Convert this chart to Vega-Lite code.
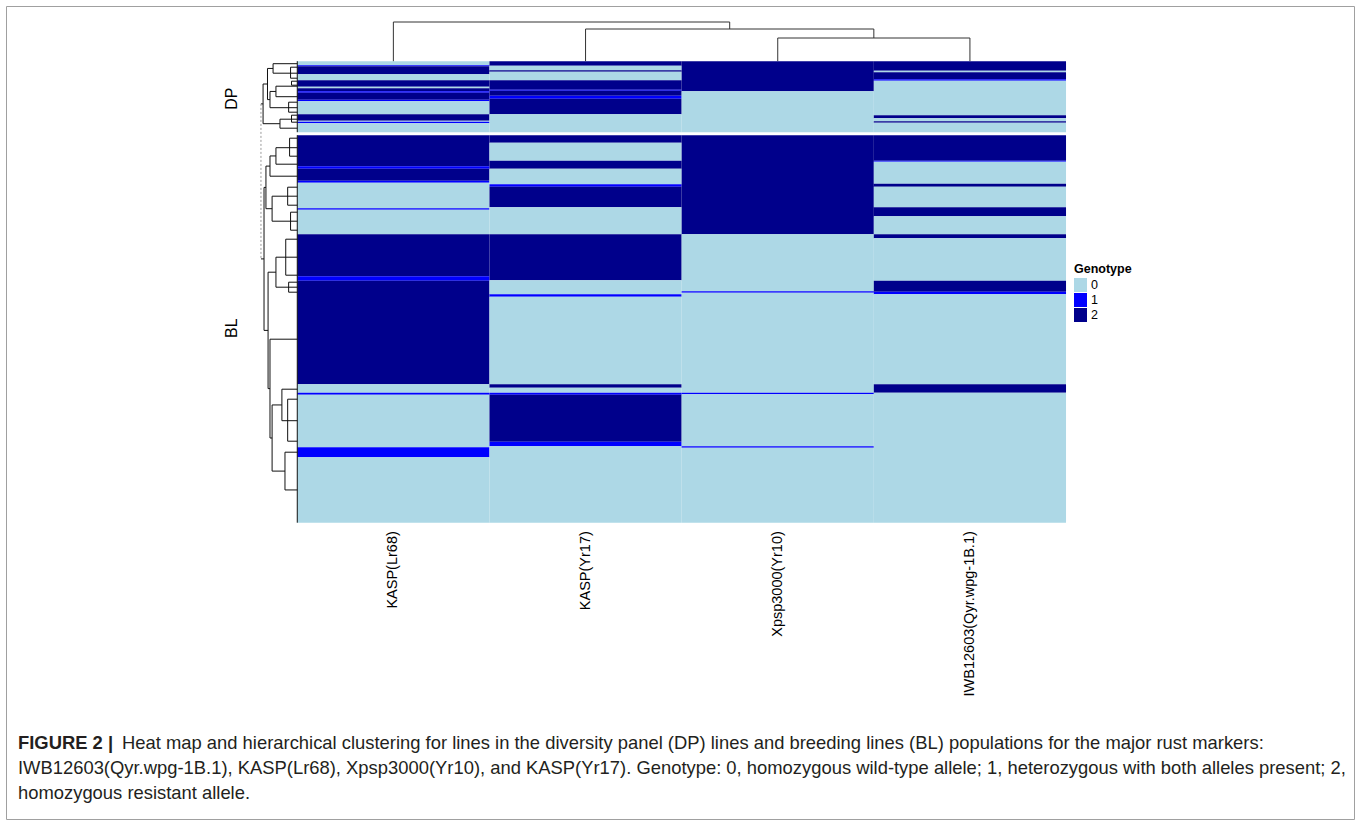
{
  "$schema": "https://vega.github.io/schema/vega-lite/v6.json",
  "width": 1360,
  "height": 825,
  "autosize": {"type": "fit", "contains": "padding"},
  "padding": 6,
  "background": "white",
  "config": {
    "view": {"stroke": "#a0a0a0", "strokeWidth": 1},
    "legend": {
      "orient": "none",
      "legendX": 1068,
      "legendY": 257,
      "titleFont": "Liberation Sans",
      "titleFontSize": 12.5,
      "titleFontWeight": "bold",
      "titleColor": "#000000",
      "titlePadding": 3,
      "labelFont": "Liberation Sans",
      "labelFontSize": 12.5,
      "labelColor": "#000000",
      "labelOffset": 4,
      "symbolType": "M-1,-1.08H1V1.08H-1Z",
      "symbolSize": 169,
      "symbolStrokeWidth": 0,
      "symbolOpacity": 1,
      "rowPadding": 0
    }
  },
  "datasets": {
    "cells": [
      {"marker": "KASP(Lr68)", "col": 0, "r1": 0, "r2": 4, "genotype": "0"},
      {"marker": "KASP(Lr68)", "col": 0, "r1": 4, "r2": 5, "genotype": "1"},
      {"marker": "KASP(Lr68)", "col": 0, "r1": 5, "r2": 13, "genotype": "2"},
      {"marker": "KASP(Lr68)", "col": 0, "r1": 13, "r2": 19, "genotype": "0"},
      {"marker": "KASP(Lr68)", "col": 0, "r1": 19, "r2": 25.5, "genotype": "2"},
      {"marker": "KASP(Lr68)", "col": 0, "r1": 25.5, "r2": 27, "genotype": "0"},
      {"marker": "KASP(Lr68)", "col": 0, "r1": 27, "r2": 30, "genotype": "2"},
      {"marker": "KASP(Lr68)", "col": 0, "r1": 30, "r2": 31.5, "genotype": "1"},
      {"marker": "KASP(Lr68)", "col": 0, "r1": 31.5, "r2": 38.5, "genotype": "2"},
      {"marker": "KASP(Lr68)", "col": 0, "r1": 38.5, "r2": 40, "genotype": "1"},
      {"marker": "KASP(Lr68)", "col": 0, "r1": 40, "r2": 53, "genotype": "0"},
      {"marker": "KASP(Lr68)", "col": 0, "r1": 53, "r2": 59.5, "genotype": "2"},
      {"marker": "KASP(Lr68)", "col": 0, "r1": 59.5, "r2": 60.5, "genotype": "0"},
      {"marker": "KASP(Lr68)", "col": 0, "r1": 60.5, "r2": 62, "genotype": "1"},
      {"marker": "KASP(Lr68)", "col": 0, "r1": 62, "r2": 71, "genotype": "0"},
      {"marker": "KASP(Lr68)", "col": 0, "r1": 74, "r2": 105, "genotype": "2"},
      {"marker": "KASP(Lr68)", "col": 0, "r1": 105, "r2": 107.5, "genotype": "1"},
      {"marker": "KASP(Lr68)", "col": 0, "r1": 107.5, "r2": 119.5, "genotype": "2"},
      {"marker": "KASP(Lr68)", "col": 0, "r1": 119.5, "r2": 121.5, "genotype": "1"},
      {"marker": "KASP(Lr68)", "col": 0, "r1": 121.5, "r2": 147, "genotype": "0"},
      {"marker": "KASP(Lr68)", "col": 0, "r1": 147, "r2": 148.5, "genotype": "1"},
      {"marker": "KASP(Lr68)", "col": 0, "r1": 148.5, "r2": 173, "genotype": "0"},
      {"marker": "KASP(Lr68)", "col": 0, "r1": 173, "r2": 215, "genotype": "2"},
      {"marker": "KASP(Lr68)", "col": 0, "r1": 215, "r2": 219.5, "genotype": "1"},
      {"marker": "KASP(Lr68)", "col": 0, "r1": 219.5, "r2": 323, "genotype": "2"},
      {"marker": "KASP(Lr68)", "col": 0, "r1": 323, "r2": 331.5, "genotype": "0"},
      {"marker": "KASP(Lr68)", "col": 0, "r1": 331.5, "r2": 333.5, "genotype": "1"},
      {"marker": "KASP(Lr68)", "col": 0, "r1": 333.5, "r2": 386, "genotype": "0"},
      {"marker": "KASP(Lr68)", "col": 0, "r1": 386, "r2": 396, "genotype": "1"},
      {"marker": "KASP(Lr68)", "col": 0, "r1": 396, "r2": 461.5, "genotype": "0"},

      {"marker": "KASP(Yr17)", "col": 1, "r1": 0, "r2": 4.5, "genotype": "2"},
      {"marker": "KASP(Yr17)", "col": 1, "r1": 4.5, "r2": 9, "genotype": "0"},
      {"marker": "KASP(Yr17)", "col": 1, "r1": 9, "r2": 10.5, "genotype": "2"},
      {"marker": "KASP(Yr17)", "col": 1, "r1": 10.5, "r2": 19, "genotype": "0"},
      {"marker": "KASP(Yr17)", "col": 1, "r1": 19, "r2": 28.5, "genotype": "2"},
      {"marker": "KASP(Yr17)", "col": 1, "r1": 28.5, "r2": 29.5, "genotype": "1"},
      {"marker": "KASP(Yr17)", "col": 1, "r1": 29.5, "r2": 34.5, "genotype": "2"},
      {"marker": "KASP(Yr17)", "col": 1, "r1": 34.5, "r2": 37.5, "genotype": "1"},
      {"marker": "KASP(Yr17)", "col": 1, "r1": 37.5, "r2": 53, "genotype": "2"},
      {"marker": "KASP(Yr17)", "col": 1, "r1": 53, "r2": 71, "genotype": "0"},
      {"marker": "KASP(Yr17)", "col": 1, "r1": 74, "r2": 81.5, "genotype": "2"},
      {"marker": "KASP(Yr17)", "col": 1, "r1": 81.5, "r2": 99.5, "genotype": "0"},
      {"marker": "KASP(Yr17)", "col": 1, "r1": 99.5, "r2": 107.5, "genotype": "2"},
      {"marker": "KASP(Yr17)", "col": 1, "r1": 107.5, "r2": 123, "genotype": "0"},
      {"marker": "KASP(Yr17)", "col": 1, "r1": 123, "r2": 125.5, "genotype": "1"},
      {"marker": "KASP(Yr17)", "col": 1, "r1": 125.5, "r2": 146, "genotype": "2"},
      {"marker": "KASP(Yr17)", "col": 1, "r1": 146, "r2": 173, "genotype": "0"},
      {"marker": "KASP(Yr17)", "col": 1, "r1": 173, "r2": 219, "genotype": "2"},
      {"marker": "KASP(Yr17)", "col": 1, "r1": 219, "r2": 233, "genotype": "0"},
      {"marker": "KASP(Yr17)", "col": 1, "r1": 233, "r2": 235.5, "genotype": "1"},
      {"marker": "KASP(Yr17)", "col": 1, "r1": 235.5, "r2": 323, "genotype": "0"},
      {"marker": "KASP(Yr17)", "col": 1, "r1": 323, "r2": 326.5, "genotype": "2"},
      {"marker": "KASP(Yr17)", "col": 1, "r1": 326.5, "r2": 331.5, "genotype": "0"},
      {"marker": "KASP(Yr17)", "col": 1, "r1": 331.5, "r2": 333.5, "genotype": "1"},
      {"marker": "KASP(Yr17)", "col": 1, "r1": 333.5, "r2": 380.5, "genotype": "2"},
      {"marker": "KASP(Yr17)", "col": 1, "r1": 380.5, "r2": 385, "genotype": "1"},
      {"marker": "KASP(Yr17)", "col": 1, "r1": 385, "r2": 461.5, "genotype": "0"},

      {"marker": "Xpsp3000(Yr10)", "col": 2, "r1": 0, "r2": 30, "genotype": "2"},
      {"marker": "Xpsp3000(Yr10)", "col": 2, "r1": 30, "r2": 71, "genotype": "0"},
      {"marker": "Xpsp3000(Yr10)", "col": 2, "r1": 74, "r2": 173, "genotype": "2"},
      {"marker": "Xpsp3000(Yr10)", "col": 2, "r1": 173, "r2": 230, "genotype": "0"},
      {"marker": "Xpsp3000(Yr10)", "col": 2, "r1": 230, "r2": 231.5, "genotype": "1"},
      {"marker": "Xpsp3000(Yr10)", "col": 2, "r1": 231.5, "r2": 331.5, "genotype": "0"},
      {"marker": "Xpsp3000(Yr10)", "col": 2, "r1": 331.5, "r2": 333, "genotype": "1"},
      {"marker": "Xpsp3000(Yr10)", "col": 2, "r1": 333, "r2": 385, "genotype": "0"},
      {"marker": "Xpsp3000(Yr10)", "col": 2, "r1": 385, "r2": 386.5, "genotype": "1"},
      {"marker": "Xpsp3000(Yr10)", "col": 2, "r1": 386.5, "r2": 461.5, "genotype": "0"},

      {"marker": "IWB12603(Qyr.wpg-1B.1)", "col": 3, "r1": 0, "r2": 9.5, "genotype": "2"},
      {"marker": "IWB12603(Qyr.wpg-1B.1)", "col": 3, "r1": 9.5, "r2": 11, "genotype": "0"},
      {"marker": "IWB12603(Qyr.wpg-1B.1)", "col": 3, "r1": 11, "r2": 18, "genotype": "2"},
      {"marker": "IWB12603(Qyr.wpg-1B.1)", "col": 3, "r1": 18, "r2": 19.5, "genotype": "1"},
      {"marker": "IWB12603(Qyr.wpg-1B.1)", "col": 3, "r1": 19.5, "r2": 54, "genotype": "0"},
      {"marker": "IWB12603(Qyr.wpg-1B.1)", "col": 3, "r1": 54, "r2": 57, "genotype": "2"},
      {"marker": "IWB12603(Qyr.wpg-1B.1)", "col": 3, "r1": 57, "r2": 60, "genotype": "0"},
      {"marker": "IWB12603(Qyr.wpg-1B.1)", "col": 3, "r1": 60, "r2": 61.5, "genotype": "2"},
      {"marker": "IWB12603(Qyr.wpg-1B.1)", "col": 3, "r1": 61.5, "r2": 71, "genotype": "0"},
      {"marker": "IWB12603(Qyr.wpg-1B.1)", "col": 3, "r1": 74, "r2": 99.5, "genotype": "2"},
      {"marker": "IWB12603(Qyr.wpg-1B.1)", "col": 3, "r1": 99.5, "r2": 100.5, "genotype": "1"},
      {"marker": "IWB12603(Qyr.wpg-1B.1)", "col": 3, "r1": 100.5, "r2": 122.5, "genotype": "0"},
      {"marker": "IWB12603(Qyr.wpg-1B.1)", "col": 3, "r1": 122.5, "r2": 125.5, "genotype": "2"},
      {"marker": "IWB12603(Qyr.wpg-1B.1)", "col": 3, "r1": 125.5, "r2": 146, "genotype": "0"},
      {"marker": "IWB12603(Qyr.wpg-1B.1)", "col": 3, "r1": 146, "r2": 155, "genotype": "2"},
      {"marker": "IWB12603(Qyr.wpg-1B.1)", "col": 3, "r1": 155, "r2": 173, "genotype": "0"},
      {"marker": "IWB12603(Qyr.wpg-1B.1)", "col": 3, "r1": 173, "r2": 177, "genotype": "2"},
      {"marker": "IWB12603(Qyr.wpg-1B.1)", "col": 3, "r1": 177, "r2": 219.5, "genotype": "0"},
      {"marker": "IWB12603(Qyr.wpg-1B.1)", "col": 3, "r1": 219.5, "r2": 230.5, "genotype": "2"},
      {"marker": "IWB12603(Qyr.wpg-1B.1)", "col": 3, "r1": 230.5, "r2": 233, "genotype": "1"},
      {"marker": "IWB12603(Qyr.wpg-1B.1)", "col": 3, "r1": 233, "r2": 323, "genotype": "0"},
      {"marker": "IWB12603(Qyr.wpg-1B.1)", "col": 3, "r1": 323, "r2": 331.5, "genotype": "2"},
      {"marker": "IWB12603(Qyr.wpg-1B.1)", "col": 3, "r1": 331.5, "r2": 461.5, "genotype": "0"}
    ],
    "rowTree": [
      {"x1": 0, "x2": 0, "y1": 0, "y2": 71},
      {"x1": 0, "x2": 0, "y1": 74, "y2": 461.5},
      {"x1": -0.126, "x2": -0.126, "y1": 2.5, "y2": 12},
      {"x1": -0.126, "x2": 0, "y1": 2.5, "y2": 2.5},
      {"x1": -0.126, "x2": 0, "y1": 12, "y2": 12},
      {"x1": -0.111, "x2": -0.111, "y1": 25, "y2": 35.5},
      {"x1": -0.111, "x2": 0, "y1": 25, "y2": 25},
      {"x1": -0.111, "x2": 0, "y1": 35.5, "y2": 35.5},
      {"x1": -0.142, "x2": -0.142, "y1": 30.25, "y2": 46.5},
      {"x1": -0.142, "x2": -0.111, "y1": 30.25, "y2": 30.25},
      {"x1": -0.142, "x2": 0, "y1": 46.5, "y2": 46.5},
      {"x1": -0.155, "x2": -0.155, "y1": 7.25, "y2": 38.4},
      {"x1": -0.155, "x2": -0.126, "y1": 7.25, "y2": 7.25},
      {"x1": -0.155, "x2": -0.142, "y1": 38.4, "y2": 38.4},
      {"x1": -0.09, "x2": -0.09, "y1": 58, "y2": 67},
      {"x1": -0.09, "x2": 0, "y1": 58, "y2": 58},
      {"x1": -0.09, "x2": 0, "y1": 67, "y2": 67},
      {"x1": -0.178, "x2": -0.178, "y1": 22.8, "y2": 62.5},
      {"x1": -0.178, "x2": -0.155, "y1": 22.8, "y2": 22.8},
      {"x1": -0.178, "x2": -0.09, "y1": 62.5, "y2": 62.5},
      {"x1": -0.111, "x2": -0.111, "y1": 86.5, "y2": 103},
      {"x1": -0.111, "x2": 0, "y1": 86.5, "y2": 86.5},
      {"x1": -0.111, "x2": 0, "y1": 103, "y2": 103},
      {"x1": -0.142, "x2": -0.142, "y1": 94.75, "y2": 115},
      {"x1": -0.142, "x2": -0.111, "y1": 94.75, "y2": 94.75},
      {"x1": -0.142, "x2": 0, "y1": 115, "y2": 115},
      {"x1": -0.131, "x2": -0.131, "y1": 135, "y2": 160},
      {"x1": -0.131, "x2": 0, "y1": 135, "y2": 135},
      {"x1": -0.131, "x2": 0, "y1": 160, "y2": 160},
      {"x1": -0.163, "x2": -0.163, "y1": 104.9, "y2": 147.5},
      {"x1": -0.163, "x2": -0.142, "y1": 104.9, "y2": 104.9},
      {"x1": -0.163, "x2": -0.131, "y1": 147.5, "y2": 147.5},
      {"x1": -0.111, "x2": -0.111, "y1": 196, "y2": 226},
      {"x1": -0.111, "x2": 0, "y1": 196, "y2": 196},
      {"x1": -0.111, "x2": 0, "y1": 226, "y2": 226},
      {"x1": -0.08, "x2": -0.08, "y1": 328, "y2": 359.5},
      {"x1": -0.08, "x2": 0, "y1": 328, "y2": 328},
      {"x1": -0.08, "x2": 0, "y1": 359.5, "y2": 359.5},
      {"x1": -0.064, "x2": -0.064, "y1": 391, "y2": 428.75},
      {"x1": -0.064, "x2": 0, "y1": 391, "y2": 391},
      {"x1": -0.064, "x2": 0, "y1": 428.75, "y2": 428.75},
      {"x1": -0.131, "x2": -0.131, "y1": 343.75, "y2": 409.9},
      {"x1": -0.131, "x2": -0.08, "y1": 343.75, "y2": 343.75},
      {"x1": -0.131, "x2": -0.064, "y1": 409.9, "y2": 409.9},
      {"x1": -0.142, "x2": -0.142, "y1": 278, "y2": 376.8},
      {"x1": -0.142, "x2": 0, "y1": 278, "y2": 278},
      {"x1": -0.142, "x2": -0.131, "y1": 376.8, "y2": 376.8},
      {"x1": -0.152, "x2": -0.152, "y1": 211, "y2": 327.4},
      {"x1": -0.152, "x2": -0.111, "y1": 211, "y2": 211},
      {"x1": -0.152, "x2": -0.142, "y1": 327.4, "y2": 327.4},
      {"x1": -0.173, "x2": -0.173, "y1": 126.2, "y2": 269.2},
      {"x1": -0.173, "x2": -0.163, "y1": 126.2, "y2": 126.2},
      {"x1": -0.173, "x2": -0.152, "y1": 269.2, "y2": 269.2},
      {"x1": -0.189, "x2": -0.178, "y1": 42.7, "y2": 42.7},
      {"x1": -0.189, "x2": -0.173, "y1": 197.7, "y2": 197.7},
      {"x1": -0.035, "x2": -0.035, "y1": 6, "y2": 17},
      {"x1": -0.035, "x2": 0, "y1": 6, "y2": 6},
      {"x1": -0.035, "x2": 0, "y1": 17, "y2": 17},
      {"x1": -0.03, "x2": -0.03, "y1": 20, "y2": 24},
      {"x1": -0.03, "x2": 0, "y1": 20, "y2": 20},
      {"x1": -0.03, "x2": 0, "y1": 24, "y2": 24},
      {"x1": -0.045, "x2": -0.045, "y1": 41, "y2": 51},
      {"x1": -0.045, "x2": 0, "y1": 41, "y2": 41},
      {"x1": -0.045, "x2": 0, "y1": 51, "y2": 51},
      {"x1": -0.03, "x2": -0.03, "y1": 54, "y2": 61},
      {"x1": -0.03, "x2": 0, "y1": 54, "y2": 54},
      {"x1": -0.03, "x2": 0, "y1": 61, "y2": 61},
      {"x1": -0.04, "x2": -0.04, "y1": 77, "y2": 95},
      {"x1": -0.04, "x2": 0, "y1": 77, "y2": 77},
      {"x1": -0.04, "x2": 0, "y1": 95, "y2": 95},
      {"x1": -0.05, "x2": -0.05, "y1": 126, "y2": 144},
      {"x1": -0.05, "x2": 0, "y1": 126, "y2": 126},
      {"x1": -0.05, "x2": 0, "y1": 144, "y2": 144},
      {"x1": -0.035, "x2": -0.035, "y1": 151, "y2": 169},
      {"x1": -0.035, "x2": 0, "y1": 151, "y2": 151},
      {"x1": -0.035, "x2": 0, "y1": 169, "y2": 169},
      {"x1": -0.06, "x2": -0.06, "y1": 178, "y2": 214},
      {"x1": -0.06, "x2": 0, "y1": 178, "y2": 178},
      {"x1": -0.06, "x2": 0, "y1": 214, "y2": 214},
      {"x1": -0.045, "x2": -0.045, "y1": 221, "y2": 231},
      {"x1": -0.045, "x2": 0, "y1": 221, "y2": 221},
      {"x1": -0.045, "x2": 0, "y1": 231, "y2": 231},
      {"x1": -0.05, "x2": -0.05, "y1": 338, "y2": 380},
      {"x1": -0.05, "x2": 0, "y1": 338, "y2": 338},
      {"x1": -0.05, "x2": 0, "y1": 380, "y2": 380}
    ],
    "rowRoot": [
      {"x1": -0.189, "x2": -0.189, "y1": 42.7, "y2": 197.7}
    ],
    "colTree": [
      {"x1": 2.5, "x2": 3.5, "y1": -23.2, "y2": -23.2},
      {"x1": 2.5, "x2": 2.5, "y1": 0, "y2": -23.2},
      {"x1": 3.5, "x2": 3.5, "y1": 0, "y2": -23.2},
      {"x1": 1.5, "x2": 3.0, "y1": -32.2, "y2": -32.2},
      {"x1": 1.5, "x2": 1.5, "y1": 0, "y2": -32.2},
      {"x1": 3.0, "x2": 3.0, "y1": -23.2, "y2": -32.2},
      {"x1": 0.5, "x2": 2.25, "y1": -39.2, "y2": -39.2},
      {"x1": 0.5, "x2": 0.5, "y1": 0, "y2": -39.2},
      {"x1": 2.25, "x2": 2.25, "y1": -32.2, "y2": -39.2}
    ],
    "groups": [
      {"label": "DP", "x": -0.34, "y": 37.5},
      {"label": "BL", "x": -0.34, "y": 267}
    ],
    "markers": [
      {"label": "KASP(Lr68)", "x": 0.5, "y": 470},
      {"label": "KASP(Yr17)", "x": 1.5, "y": 470},
      {"label": "Xpsp3000(Yr10)", "x": 2.5, "y": 470},
      {"label": "IWB12603(Qyr.wpg-1B.1)", "x": 3.5, "y": 470}
    ],
    "captionBold": [
      {"text": "FIGURE 2 |", "x": -1.4532, "y": 681.5}
    ],
    "caption": [
      {"text": "Heat map and hierarchical clustering for lines in the diversity panel (DP) lines and breeding lines (BL) populations for the major rust markers:", "x": -0.9121, "y": 681.5},
      {"text": "IWB12603(Qyr.wpg-1B.1), KASP(Lr68), Xpsp3000(Yr10), and KASP(Yr17). Genotype: 0, homozygous wild-type allele; 1, heterozygous with both alleles present; 2,", "x": -1.4532, "y": 706.5},
      {"text": "homozygous resistant allele.", "x": -1.4532, "y": 731.5}
    ]
  },
  "layer": [
    {
      "data": {"name": "cells"},
      "mark": {"type": "rect", "strokeWidth": 0},
      "transform": [{"calculate": "datum.col + 1", "as": "col2"}],
      "encoding": {
        "x": {"field": "col", "type": "quantitative", "axis": null, "scale": {"domain": [-1.5156, 5.4984], "nice": false, "zero": false}},
        "x2": {"field": "col2"},
        "y": {"field": "r1", "type": "quantitative", "axis": null, "scale": {"domain": [-55.2, 757.8], "nice": false, "zero": false, "reverse": true}},
        "y2": {"field": "r2"},
        "color": {
          "field": "genotype",
          "type": "nominal",
          "title": "Genotype",
          "scale": {"domain": ["0", "1", "2"], "range": ["#ADD8E6", "#0000FF", "#00008B"]}
        }
      }
    },
    {
      "data": {"name": "rowTree"},
      "mark": {"type": "rule", "color": "#111111", "strokeWidth": 1},
      "encoding": {
        "x": {"field": "x1", "type": "quantitative", "axis": null, "scale": {"domain": [-1.5156, 5.4984], "nice": false, "zero": false}},
        "x2": {"field": "x2"},
        "y": {"field": "y1", "type": "quantitative", "axis": null, "scale": {"domain": [-55.2, 757.8], "nice": false, "zero": false, "reverse": true}},
        "y2": {"field": "y2"}
      }
    },
    {
      "data": {"name": "rowRoot"},
      "mark": {"type": "rule", "color": "#9a9a9a", "strokeWidth": 1, "strokeDash": [2, 2]},
      "encoding": {
        "x": {"field": "x1", "type": "quantitative", "axis": null, "scale": {"domain": [-1.5156, 5.4984], "nice": false, "zero": false}},
        "x2": {"field": "x2"},
        "y": {"field": "y1", "type": "quantitative", "axis": null, "scale": {"domain": [-55.2, 757.8], "nice": false, "zero": false, "reverse": true}},
        "y2": {"field": "y2"}
      }
    },
    {
      "data": {"name": "colTree"},
      "mark": {"type": "rule", "color": "#333333", "strokeWidth": 1},
      "encoding": {
        "x": {"field": "x1", "type": "quantitative", "axis": null, "scale": {"domain": [-1.5156, 5.4984], "nice": false, "zero": false}},
        "x2": {"field": "x2"},
        "y": {"field": "y1", "type": "quantitative", "axis": null, "scale": {"domain": [-55.2, 757.8], "nice": false, "zero": false, "reverse": true}},
        "y2": {"field": "y2"}
      }
    },
    {
      "data": {"name": "groups"},
      "mark": {"type": "text", "angle": 270, "align": "center", "baseline": "middle", "font": "Liberation Sans", "fontSize": 16, "color": "#000000"},
      "encoding": {
        "x": {"field": "x", "type": "quantitative", "axis": null, "scale": {"domain": [-1.5156, 5.4984], "nice": false, "zero": false}},
        "y": {"field": "y", "type": "quantitative", "axis": null, "scale": {"domain": [-55.2, 757.8], "nice": false, "zero": false, "reverse": true}},
        "text": {"field": "label"}
      }
    },
    {
      "data": {"name": "markers"},
      "mark": {"type": "text", "angle": 270, "align": "right", "baseline": "middle", "font": "Liberation Sans", "fontSize": 14.5, "color": "#000000"},
      "encoding": {
        "x": {"field": "x", "type": "quantitative", "axis": null, "scale": {"domain": [-1.5156, 5.4984], "nice": false, "zero": false}},
        "y": {"field": "y", "type": "quantitative", "axis": null, "scale": {"domain": [-55.2, 757.8], "nice": false, "zero": false, "reverse": true}},
        "text": {"field": "label"}
      }
    },
    {
      "data": {"name": "captionBold"},
      "mark": {"type": "text", "align": "left", "baseline": "middle", "font": "Liberation Sans", "fontSize": 18.4, "fontWeight": "bold", "color": "#231f20"},
      "encoding": {
        "x": {"field": "x", "type": "quantitative", "axis": null, "scale": {"domain": [-1.5156, 5.4984], "nice": false, "zero": false}},
        "y": {"field": "y", "type": "quantitative", "axis": null, "scale": {"domain": [-55.2, 757.8], "nice": false, "zero": false, "reverse": true}},
        "text": {"field": "text"}
      }
    },
    {
      "data": {"name": "caption"},
      "mark": {"type": "text", "align": "left", "baseline": "middle", "font": "Liberation Sans", "fontSize": 18.4, "color": "#231f20"},
      "encoding": {
        "x": {"field": "x", "type": "quantitative", "axis": null, "scale": {"domain": [-1.5156, 5.4984], "nice": false, "zero": false}},
        "y": {"field": "y", "type": "quantitative", "axis": null, "scale": {"domain": [-55.2, 757.8], "nice": false, "zero": false, "reverse": true}},
        "text": {"field": "text"}
      }
    }
  ]
}
